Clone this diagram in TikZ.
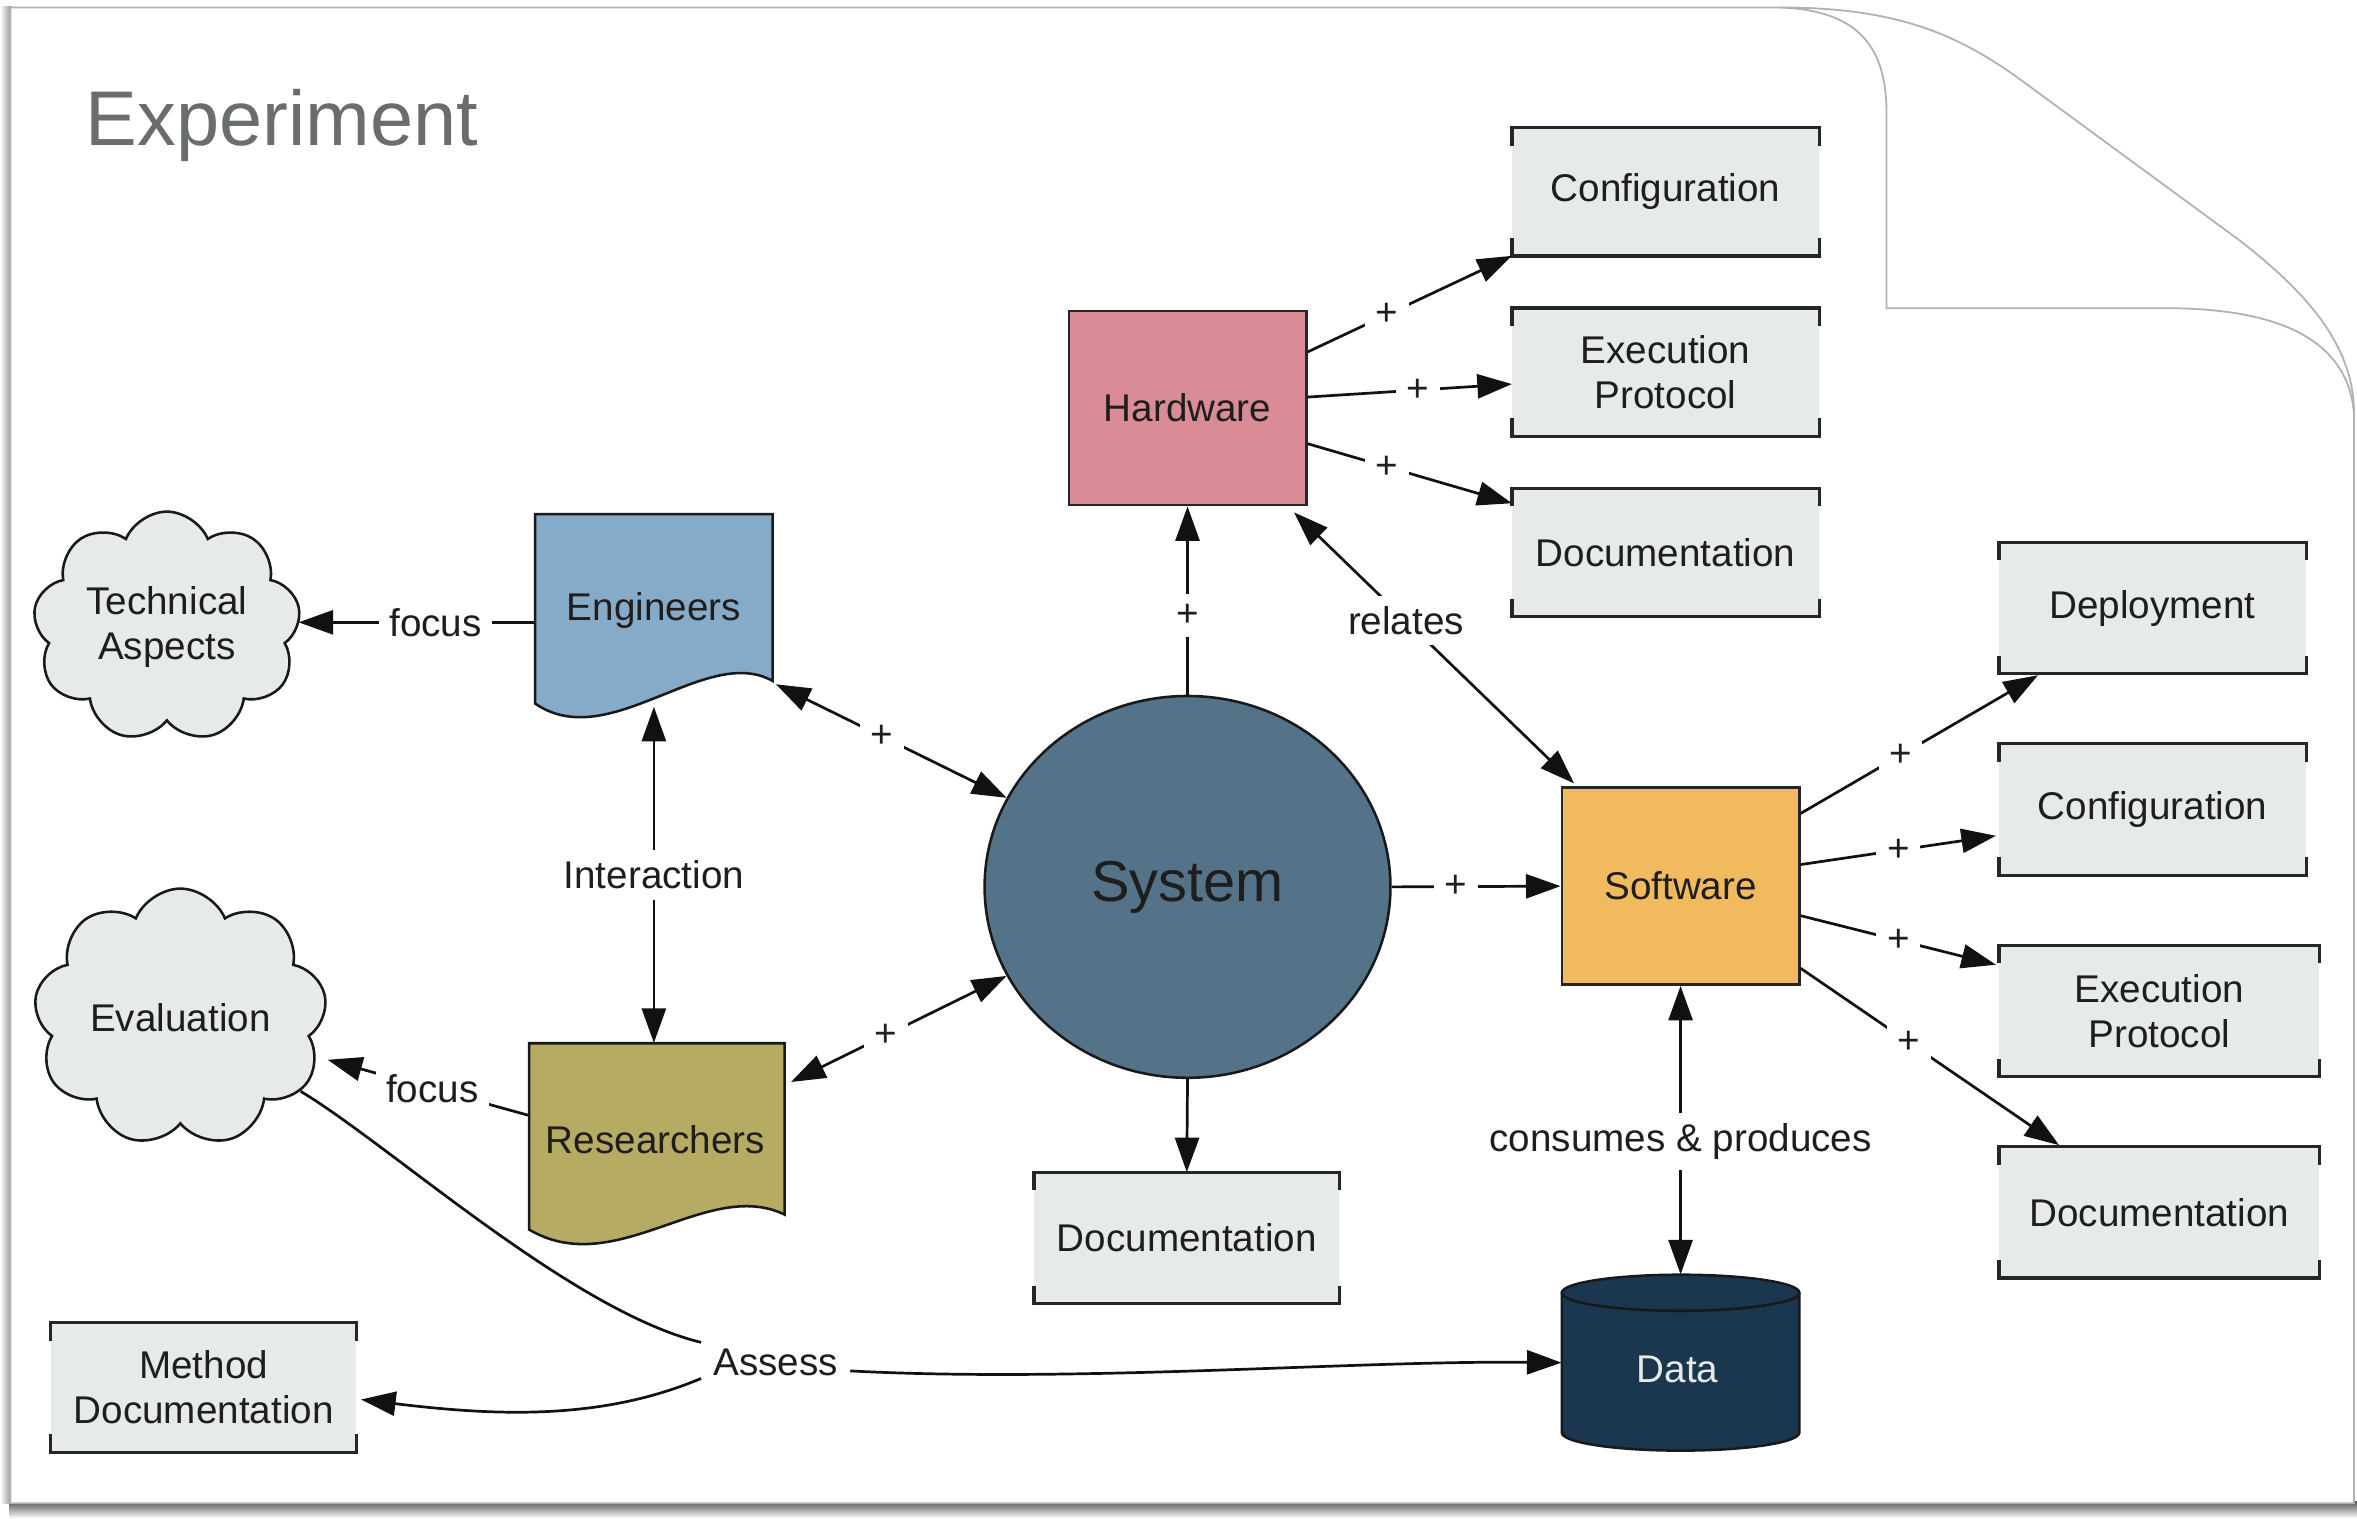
\documentclass[tikz,border=0pt]{standalone}
\usepackage{fontspec}
\setmainfont{Liberation Sans}
\usetikzlibrary{arrows.meta,calc,shapes.symbols,shapes.geometric}
\definecolor{txt}{HTML}{1E1E1E}
\definecolor{titlecol}{HTML}{6A6D6D}
\definecolor{boxgray}{HTML}{E7EAEB}
\definecolor{hwcol}{HTML}{D98B96}
\definecolor{engcol}{HTML}{86ABC9}
\definecolor{rescol}{HTML}{B5AB62}
\definecolor{syscol}{HTML}{557388}
\definecolor{swcol}{HTML}{F2BA5E}
\definecolor{datacol}{HTML}{1B374F}
\definecolor{linecol}{HTML}{111111}
\tikzset{
  base/.style={font=\fontsize{25.7}{30}\selectfont, text=txt, align=center},
  tip/.tip={Triangle[length=23pt,width=16pt]},
  conn/.style={line width=1.8pt, draw=linecol, -tip},
  both/.style={line width=1.8pt, draw=linecol, tip-tip},
  plain/.style={line width=1.8pt, draw=linecol},
  lbl/.style={base, fill=white, inner sep=7pt},
  bbox/.style={base, fill=boxgray, minimum width=204pt, minimum height=86pt, inner sep=0pt},
  bracket/.style={line width=2.2pt, draw=black!85},
  sqbox/.style={base, draw=black!85, line width=1.7pt, minimum width=158pt, inner sep=0pt},
  shapeline/.style={draw=black!90, line width=1.7pt},
  ghost/.style={base, inner sep=0pt},
  puff/.style={base, cloud, cloud puffs=9, cloud puff arc=135, aspect=1.2, draw=black!90, line width=1.7pt, fill=boxgray, inner sep=0pt},
}
\begin{document}
\begin{tikzpicture}[x=1pt,y=-1pt]
\useasboundingbox (0,0) rectangle (1568,1010);

% page shadow
\shade[top color=black!65, bottom color=white] (6,999) rectangle (1568,1010);
\shade[left color=white, right color=black!45] (0,4) rectangle (8,1000);

% page
\filldraw[fill=white, draw=black!30, line width=1.2pt]
  (7,5) -- (1185,5) .. controls (1260,5) and (1300,22) .. (1340,50)
  -- (1490,160) .. controls (1535,195) and (1566,230) .. (1566,275)
  -- (1566,1000) -- (7,1000) -- cycle;
\draw[black!30, line width=1.2pt]
  (1185,5) .. controls (1235,7) and (1255,30) .. (1255,75)
  -- (1255,205) -- (1440,205) .. controls (1520,205) and (1562,228) .. (1566,275);

% title
\node[anchor=base west, inner sep=0pt, font=\fontsize{51.6}{60}\selectfont, text=titlecol] (title) at (57,97) {Experiment};

% bracket boxes
\node[bbox, minimum height=85pt] (cfgA) at (1108,127.5) {Configuration};
\node[bbox, minimum height=85pt] (execA) at (1108,247.5) {Execution\\Protocol};
\node[bbox, minimum height=85pt] (docA) at (1108,367.5) {Documentation};
\node[bbox, minimum height=87pt] (dep) at (1432,404.5) {Deployment};
\node[bbox, minimum height=87pt] (cfgB) at (1432,538.5) {Configuration};
\node[bbox, minimum width=213pt, minimum height=87pt] (execB) at (1436.5,672.5) {Execution\\Protocol};
\node[bbox, minimum width=213pt, minimum height=87pt] (docC) at (1436.5,806.5) {Documentation};
\node[bbox, minimum width=203pt, minimum height=87pt] (docB) at (789.5,823.5) {Documentation};
\node[bbox, minimum width=203pt, minimum height=86pt] (meth) at (135.5,923) {Method\\Documentation};
\foreach \n in {cfgA,execA,docA,dep,cfgB,execB,docC,docB,meth}{
  \draw[bracket] ($(\n.north west)+(0,12)$) -- (\n.north west) -- (\n.north east) -- ++(0,12);
  \draw[bracket] ($(\n.south west)+(0,-12)$) -- (\n.south west) -- (\n.south east) -- ++(0,-12);
}

% hardware, software
\node[sqbox, fill=hwcol, minimum height=129pt] (hw) at (790,271.5) {Hardware};
\node[sqbox, fill=swcol, minimum height=131pt] (sw) at (1118,589.5) {Software};

% system
\node[ellipse, draw=black!90, line width=1.7pt, fill=syscol, minimum width=270pt, minimum height=254pt, inner sep=0pt,
      font=\fontsize{38.4}{44}\selectfont, text=txt] (sys) at (790,590) {\raisebox{-3pt}{System}};

% engineers (document shape)
\filldraw[shapeline, fill=engcol] (356,342) -- (514,342) -- (514,453)
  .. controls (470,428) and (405,502) .. (356,468) -- cycle;
\node[ghost, minimum width=158pt, minimum height=128pt] (eng) at (435,406) {Engineers};

% researchers (document shape)
\filldraw[shapeline, fill=rescol] (352,694) -- (522,694) -- (522,808)
  .. controls (470,783) and (410,852) .. (352,818) -- cycle;
\node[ghost, minimum width=170pt, minimum height=124pt] (res) at (437,756) {};
\node[base, inner sep=0pt] (restext) at (436,758) {Researchers};

% clouds
\node[puff, minimum width=178pt, minimum height=145pt] (tech) at (111,417) {Technical\\Aspects};
\node[puff, minimum width=195pt, minimum height=138pt] (eval) at (120,677) {Evaluation};

% data cylinder
\node[ghost, minimum width=158pt, minimum height=117pt] (data) at (1118,906.5) {};
\fill[datacol] (1039,860) -- (1039,953)
   arc[start angle=180, end angle=360, x radius=79pt, y radius=12pt]
   -- (1197,860) arc[start angle=0, end angle=180, x radius=79pt, y radius=12pt] -- cycle;
\draw[shapeline] (1039,860) -- (1039,953)
   arc[start angle=180, end angle=360, x radius=79pt, y radius=12pt] -- (1197,860);
\draw[shapeline] (1118,860) ellipse[x radius=79pt, y radius=12pt];
\node[base, text=boxgray, inner sep=0pt] (datatext) at (1116,911) {Data};

% connectors: hardware outputs
\draw[conn] ($(hw.north east)+(0,28)$) -- node[lbl, pos=0.39] {+} (cfgA.south west);
\draw[conn] ($(hw.north east)+(0,58)$) -- node[lbl, pos=0.54] {+} ($(execA.west)+(0,8)$);
\draw[conn] ($(hw.north east)+(0,89)$) -- node[lbl, pos=0.39] {+} ($(docA.north west)+(0,10)$);

% system to hardware
\draw[conn] (sys.north) -- node[lbl, pos=0.42] {+} (hw.south);
% relates
\draw[both] ($(hw.south east)+(-9,4)$) -- node[lbl, pos=0.40] {relates} ($(sw.north west)+(9,-2)$);

% engineers / researchers to system
\draw[both] ($(eng.south east)+(2,-15)$) -- node[lbl, pos=0.46] {+} (sys);
\draw[both] ($(res.north east)+(4,26)$) -- node[lbl, pos=0.44] {+} (sys);

% interaction
\draw[both] (eng.south) -- node[lbl] {Interaction} (eng.south |- res.north);

% focus
\draw[conn] ($(eng.west)+(0,8)$) -- node[lbl, pos=0.42] {focus} (tech.east |- {$(eng.west)+(0,8)$});
\draw[conn] ($(res.west)+(0,-14)$) -- node[lbl, pos=0.48] {focus} ($(eval.center)+(98,28)$);

% system outputs
\draw[conn] (sys.east) -- node[lbl, pos=0.38] {+} (sw.west);
\draw[conn] (sys.south) -- (docB.north);

% software / data
\draw[both] (sw.south) -- node[lbl, pos=0.54] {consumes \& produces} (data.north);

% software outputs
\draw[conn] ($(sw.north east)+(0,18)$) -- node[lbl, pos=0.42] {+} ($(dep.south west)+(26,1)$);
\draw[conn] ($(sw.north east)+(0,52)$) -- node[lbl, pos=0.50] {+} ($(cfgB.west)+(-2,17.5)$);
\draw[conn] ($(sw.north east)+(0,86)$) -- node[lbl, pos=0.50] {+} ($(execB.north west)+(-2,13)$);
\draw[conn] ($(sw.north east)+(0,121)$) -- node[lbl, pos=0.42] {+} ($(docC.north west)+(40,-1)$);

% assess
\node[base, inner sep=0pt] (assess) at (516,906) {Assess};
\draw[plain] ($(eval.center)+(80,49)$) .. controls (260,762) and (380,872) .. ($(assess.west)+(-8,-13)$);
\draw[conn] ($(assess.east)+(8,6)$) .. controls (720,920) and (900,905) .. (data.west);
\draw[conn] ($(assess.west)+(-8,11)$) .. controls (400,945) and (330,942) .. ($(meth.east)+(3,8)$);

\end{tikzpicture}
\end{document}
